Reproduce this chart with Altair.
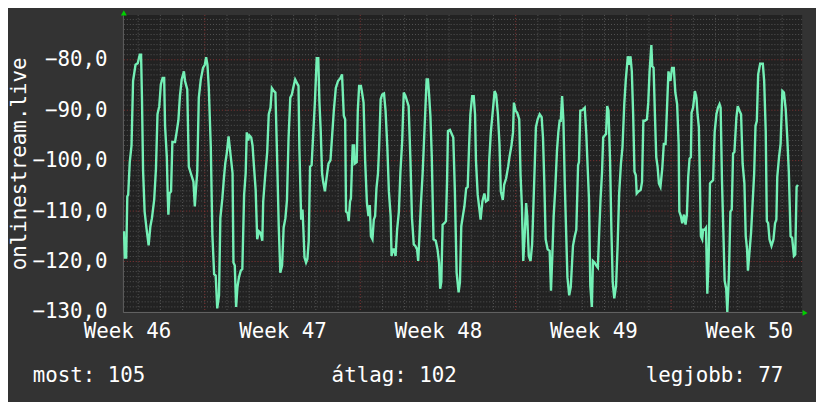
import altair as alt
import pandas as pd

# ---- data: (day offset from start of Week 47, value) ----
seg_a = [(-3.64,-114.0),(-3.60,-119.2),(-3.54,-119.2),(-3.49,-107.1),(-3.45,-106.8),(-3.38,-100.3),(-3.30,-97.0),(-3.23,-84.2),(-3.12,-81.0),(-3.02,-80.7),(-2.93,-79.0),(-2.87,-79.0),(-2.83,-87.5),(-2.78,-101.9),(-2.71,-110.1),(-2.63,-113.3),(-2.53,-116.8),(-2.45,-113.0),(-2.38,-111.4),(-2.28,-107.8),(-2.20,-101.6),(-2.13,-90.8),(-2.05,-89.2),(-1.98,-84.9),(-1.90,-83.6),(-1.83,-83.6),(-1.79,-93.1),(-1.71,-99.3),(-1.67,-106.8),(-1.64,-110.7),(-1.59,-106.5),(-1.52,-106.1),(-1.46,-96.3),(-1.34,-96.3),(-1.27,-94.4),(-1.19,-92.0),(-1.12,-87.2),(-1.04,-83.9),(-0.94,-82.3),(-0.89,-84.2),(-0.79,-85.9),(-0.72,-101.2),(-0.63,-102.5),(-0.51,-104.2),(-0.45,-109.1),(-0.40,-105.8),(-0.34,-102.2),(-0.27,-87.5),(-0.18,-83.9),(-0.08,-81.6),(0.00,-81.0),(0.06,-79.5),(0.12,-81.0),(0.18,-85.6),(0.27,-97.3),(0.34,-114.6),(0.42,-122.5),(0.49,-122.8),(0.56,-129.3),(0.64,-126.7),(0.70,-111.4),(0.79,-107.5),(0.86,-103.5),(0.92,-100.6),(0.99,-98.5),(1.07,-95.2),(1.14,-98.0)]
seg_b = [(1.25,-102.5),(1.29,-120.2),(1.35,-120.8),(1.41,-129.0),(1.47,-125.1),(1.54,-123.1),(1.62,-121.8),(1.69,-121.5),(1.77,-106.8),(1.84,-102.5),(1.89,-94.4),(1.95,-96.0),(2.01,-95.0),(2.09,-95.4),(2.15,-97.0),(2.21,-100.9),(2.29,-105.8),(2.36,-115.6),(2.44,-114.0),(2.51,-114.3),(2.59,-115.9),(2.63,-108.1),(2.72,-102.9),(2.81,-98.3),(2.88,-90.8),(2.96,-89.5),(3.02,-85.6),(3.11,-86.2),(3.18,-86.5),(3.25,-98.3),(3.33,-113.0),(3.40,-122.2),(3.48,-120.8),(3.55,-113.3),(3.63,-111.4),(3.70,-107.8),(3.77,-95.7),(3.85,-87.5),(3.92,-86.9),(4.00,-85.2),(4.07,-83.9),(4.15,-84.6),(4.22,-85.2),(4.26,-97.6),(4.34,-111.7),(4.40,-109.7),(4.44,-113.7),(4.49,-119.2),(4.56,-120.2),(4.62,-119.5),(4.68,-115.9),(4.74,-101.2),(4.81,-100.9),(4.89,-94.1),(4.96,-88.2),(5.04,-79.7),(5.11,-79.7),(5.16,-88.2),(5.22,-94.1),(5.28,-102.5),(5.33,-104.2),(5.41,-106.1),(5.48,-103.5),(5.57,-100.6),(5.66,-99.9),(5.74,-94.7),(5.81,-90.1),(5.90,-85.6),(6.00,-84.2),(6.11,-83.6),(6.18,-82.9)]
seg_c = [(6.26,-91.1),(6.32,-91.8),(6.36,-110.1),(6.43,-110.4),(6.48,-112.0),(6.54,-108.1),(6.58,-107.5),(6.63,-100.6),(6.66,-97.0),(6.72,-97.0),(6.75,-100.6),(6.84,-100.3),(6.89,-90.1),(6.95,-85.2),(7.03,-85.2),(7.07,-86.2),(7.15,-88.5),(7.22,-99.9),(7.30,-108.4),(7.37,-111.0),(7.43,-108.8),(7.48,-115.0),(7.55,-115.6),(7.61,-111.7),(7.67,-111.0),(7.73,-105.5),(7.80,-102.5),(7.85,-97.3),(7.92,-87.8),(7.99,-86.9),(8.07,-86.7),(8.14,-90.1),(8.22,-97.3),(8.29,-106.1),(8.37,-111.0),(8.41,-118.9),(8.47,-117.6),(8.53,-117.6),(8.59,-118.9),(8.66,-113.7),(8.74,-110.1),(8.81,-102.2),(8.89,-96.0),(8.96,-86.5),(9.04,-87.2),(9.11,-88.2),(9.18,-89.2),(9.26,-99.9),(9.33,-111.4),(9.41,-116.6),(9.48,-116.9),(9.56,-117.6),(9.61,-119.9),(9.67,-114.6),(9.73,-108.8),(9.81,-102.5),(9.87,-96.3),(9.93,-90.1),(9.99,-83.9),(10.05,-83.9),(10.10,-86.9),(10.16,-91.1),(10.22,-99.0),(10.30,-115.6),(10.40,-115.9),(10.48,-117.6),(10.55,-120.2),(10.60,-125.4),(10.65,-124.1),(10.71,-112.7),(10.79,-112.4),(10.86,-112.0),(10.91,-103.9),(10.95,-94.1),(11.04,-93.9),(11.12,-94.7),(11.19,-95.4),(11.26,-105.8)]
seg_d = [(11.34,-122.2),(11.43,-126.1),(11.49,-124.1),(11.55,-113.0),(11.62,-111.0),(11.69,-109.1),(11.77,-105.5),(11.84,-105.2),(11.90,-97.3),(11.96,-90.8),(12.04,-87.2),(12.11,-87.2),(12.17,-90.8),(12.21,-99.9),(12.29,-106.8),(12.36,-109.4),(12.42,-111.7),(12.50,-108.1),(12.59,-106.5),(12.66,-108.1),(12.76,-107.8),(12.81,-99.9),(12.88,-94.4),(12.99,-89.2),(13.05,-86.2),(13.12,-86.9),(13.20,-90.8),(13.27,-96.7),(13.33,-106.1),(13.42,-107.8),(13.48,-104.8),(13.57,-103.5),(13.66,-101.2),(13.72,-99.3),(13.81,-97.0),(13.88,-94.4),(13.92,-88.5),(14.00,-90.1),(14.07,-90.5),(14.16,-91.8),(14.22,-102.9),(14.28,-109.1),(14.34,-119.9),(14.40,-115.3),(14.47,-108.4),(14.52,-111.0),(14.59,-118.9),(14.67,-119.9),(14.74,-116.6),(14.79,-110.1),(14.86,-100.6),(14.91,-93.4),(14.99,-91.8),(15.08,-90.8),(15.17,-91.4),(15.23,-95.4),(15.29,-104.5),(15.35,-115.6),(15.44,-117.6),(15.53,-117.9),(15.59,-125.8),(15.65,-118.9),(15.71,-111.0),(15.78,-105.8),(15.86,-98.0),(15.92,-94.4),(15.98,-92.1),(16.03,-92.1),(16.09,-87.2),(16.15,-92.1),(16.21,-104.5)]
seg_e = [(16.33,-123.1),(16.41,-126.7),(16.48,-125.1),(16.54,-120.2),(16.58,-116.9),(16.66,-115.0),(16.73,-113.7),(16.81,-100.9),(16.85,-100.3),(16.91,-90.1),(17.00,-90.0),(17.11,-89.5),(17.18,-94.7),(17.24,-101.2),(17.30,-107.5),(17.36,-124.8),(17.43,-129.0),(17.48,-119.9),(17.55,-120.2),(17.63,-120.8),(17.70,-121.2),(17.76,-114.3),(17.82,-107.8),(17.89,-102.2),(17.94,-95.4),(18.01,-95.0),(18.07,-94.7),(18.12,-89.2),(18.18,-90.1),(18.25,-99.9),(18.31,-113.7),(18.37,-124.1),(18.44,-127.3),(18.52,-124.8),(18.59,-116.9),(18.66,-106.5),(18.74,-100.6),(18.81,-97.3),(18.89,-88.8),(18.96,-83.9),(19.05,-79.3),(19.11,-81.0),(19.17,-79.3),(19.23,-82.3),(19.29,-90.8),(19.35,-102.2),(19.41,-102.9),(19.45,-106.5),(19.53,-106.1),(19.63,-105.8),(19.69,-104.2),(19.75,-92.1),(19.82,-92.1),(19.91,-91.8),(19.97,-88.5),(20.03,-82.3),(20.11,-77.1),(20.15,-81.3),(20.21,-81.6),(20.27,-90.8),(20.33,-99.3),(20.39,-101.2),(20.45,-104.5),(20.52,-105.2),(20.60,-101.6),(20.67,-96.7),(20.75,-96.7),(20.81,-90.1),(20.88,-82.3),(20.97,-84.2),(21.04,-81.6),(21.12,-81.6),(21.19,-86.5),(21.27,-88.8),(21.34,-96.7)]
seg_f = [(21.37,-110.1),(21.44,-111.0),(21.50,-112.4),(21.58,-110.7),(21.65,-112.7),(21.71,-110.7),(21.77,-103.2),(21.83,-99.6),(21.89,-99.3),(21.92,-90.5),(21.99,-89.5),(22.07,-86.2),(22.14,-87.5),(22.19,-90.8),(22.25,-93.4),(22.29,-102.5),(22.34,-115.0),(22.40,-115.6),(22.44,-113.7),(22.51,-113.7),(22.57,-113.3),(22.63,-126.4),(22.69,-119.5),(22.75,-104.5),(22.81,-104.2),(22.89,-103.9),(22.96,-94.4),(23.04,-90.8),(23.11,-89.5),(23.18,-88.8),(23.23,-89.5),(23.29,-103.9),(23.35,-113.7),(23.41,-123.8),(23.48,-125.4),(23.53,-130.0),(23.60,-123.1),(23.67,-110.1),(23.73,-109.7),(23.79,-98.6),(23.85,-98.3),(23.94,-91.4),(24.00,-89.2),(24.08,-90.1),(24.15,-90.8),(24.22,-100.6),(24.30,-104.5),(24.36,-115.0),(24.42,-117.6),(24.46,-121.8),(24.52,-118.6),(24.60,-114.3),(24.67,-108.4),(24.74,-102.5),(24.80,-93.1),(24.86,-92.1),(24.92,-82.9),(25.01,-80.8),(25.13,-80.8),(25.19,-84.2),(25.26,-94.1),(25.31,-112.0),(25.37,-112.4),(25.43,-115.6),(25.52,-116.9),(25.61,-115.6),(25.68,-112.4),(25.74,-111.7),(25.78,-103.2),(25.86,-99.3),(25.93,-96.7),(26.01,-86.2),(26.08,-86.5),(26.16,-89.8),(26.23,-95.4),(26.30,-102.2),(26.38,-115.0),(26.45,-115.3),(26.53,-118.9),(26.59,-118.6),(26.65,-105.2),(26.71,-104.8)]

y_ticks = [-130, -120, -110, -100, -90, -80]
week_label_pos = [-3.5, 3.5, 10.5, 17.5, 24.5]
first_week = 46
y_title = "onlinestream.live"
footer = ["most: 105", "átlag: 102", "legjobb: 77"]

minor_y = [v for v in range(-129, -71) if v % 10 != 0]
major_y = [-120, -110, -100, -90, -80]
minor_x = [d for d in range(-3, 27) if d % 7 != 0]
major_x = [0, 7, 14, 21]

X_DOM = [-3.69, 26.9]
Y_DOM = [-130, -71.1]
FONT = "DejaVu Sans Mono"
FS = 21
W, H = 686, 300

series = pd.DataFrame(seg_a + seg_b + seg_c + seg_d + seg_e + seg_f, columns=["t", "v"])

xs = alt.Scale(domain=X_DOM, nice=False, zero=False)
ys = alt.Scale(domain=Y_DOM, nice=False, zero=False)

x_axis = alt.Axis(
    values=week_label_pos, title=None, grid=False, ticks=False,
    labelExpr=f"'Week ' + ({first_week} + round((datum.value - ({week_label_pos[0]})) / 7))",
    labelFont=FONT, labelFontSize=FS, labelColor="#ffffff", labelPadding=9,
    labelBaseline="top", labelOverlap=False, labelFlush=False,
    domain=True, domainColor="#666666")
y_axis = alt.Axis(
    values=y_ticks, title=y_title, grid=False, ticks=False,
    labelExpr="replace(format(datum.value, '.1f'), '.', ',')",
    labelFont=FONT, labelFontSize=FS, labelColor="#ffffff", labelPadding=16,
    labelOverlap=False, labelFlush=False,
    titleFont=FONT, titleFontSize=FS, titleColor="#ffffff", titleFontWeight="normal",
    titleX=-104, titleY=H / 2, titleAngle=270, titleAlign="center", titleBaseline="middle",
    domain=True, domainColor="#666666")

def hrule(vals, color):
    return alt.Chart(pd.DataFrame({"y": vals})).mark_rule(
        color=color, strokeDash=[1, 2], strokeWidth=1
    ).encode(y=alt.Y("y:Q", scale=ys, axis=y_axis, title=y_title))

def vrule(vals, color):
    return alt.Chart(pd.DataFrame({"x": vals})).mark_rule(
        color=color, strokeDash=[1, 2], strokeWidth=1
    ).encode(x=alt.X("x:Q", scale=xs, axis=x_axis, title=None))

grey = "#555555"
red = "#8a3535"

line = alt.Chart(series).mark_line(
    color="#74f0b6", strokeWidth=2.4, clip=True, interpolate="linear"
).encode(
    x=alt.X("t:Q", scale=xs, axis=x_axis, title=None),
    y=alt.Y("v:Q", scale=ys, axis=y_axis, title=y_title),
)

one = pd.DataFrame({"k": [0]})
arrow_up = alt.Chart(one).mark_point(shape="triangle-up", filled=True, color="#00d000", size=35, opacity=1).encode(
    x=alt.value(1), y=alt.value(-2))
arrow_right = alt.Chart(one).mark_point(shape="triangle-right", filled=True, color="#00d000", size=35, opacity=1).encode(
    x=alt.value(689), y=alt.value(301))

def foot(i, xpos, align):
    return alt.Chart(pd.DataFrame({"label": [footer[i]]})).mark_text(
        align=align, baseline="alphabetic", font=FONT, fontSize=FS, color="#ffffff"
    ).encode(x=alt.value(xpos), y=alt.value(371), text="label:N")

chart = alt.layer(
    hrule(minor_y, grey), vrule(minor_x, grey),
    hrule(major_y, red), vrule(major_x, red),
    line, arrow_up, arrow_right,
    foot(0, -91, "left"), foot(1, 274, "center"), foot(2, 667, "right"),
).properties(
    width=W, height=H,
    padding={"left": 116, "top": 5, "right": 14, "bottom": 89},
    autosize=alt.AutoSizeParams(type="none"),
).configure(background="#333333").configure_view(fill="#222222", stroke=None)

chart.save("out.html", embed_options={"renderer": "svg", "actions": False})
